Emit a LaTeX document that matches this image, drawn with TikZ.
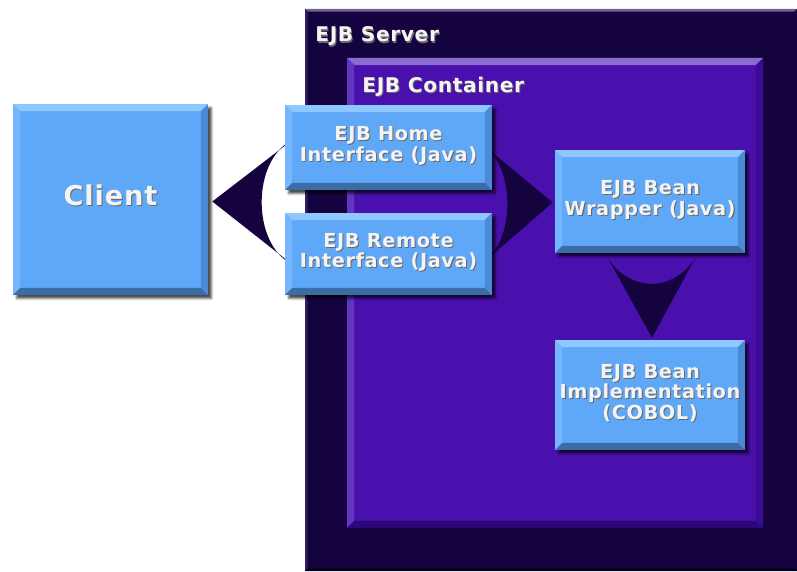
\documentclass[tikz,border=0pt]{standalone}
\usepackage{fontspec}
\newfontfamily\ejbfont[LetterSpace=3]{DejaVu Sans}
\usetikzlibrary{calc,shadows.blur}

\definecolor{serverbg}{HTML}{15033F}
\definecolor{servertop}{HTML}{6E6690}
\definecolor{serverleft}{HTML}{2E2160}
\definecolor{serverbottom}{HTML}{07001C}
\definecolor{contface}{HTML}{4A10AE}
\definecolor{conttop}{HTML}{8C6CCB}
\definecolor{contleft}{HTML}{6235C0}
\definecolor{contright}{HTML}{3A0C96}
\definecolor{contbottom}{HTML}{2B0878}
\definecolor{boxface}{HTML}{5FA8F8}
\definecolor{boxtop}{HTML}{8FC8FF}
\definecolor{boxleft}{HTML}{74B6FF}
\definecolor{boxright}{HTML}{4A8AD6}
\definecolor{boxbottom}{HTML}{3C6CA6}
\definecolor{labelwhite}{HTML}{F4F4F4}
\definecolor{textshade}{HTML}{6A6A6A}

\pgfdeclarelayer{backdrop}
\pgfdeclarelayer{links}
\pgfsetlayers{backdrop,links,main}

% bevelled frame: (top left)(bottom right)[width]{top}{left}{right}{bottom}
\def\bevel(#1)(#2)[#3]#4#5#6#7{%
  \path (#1) coordinate (bvA) (#2) coordinate (bvB);
  \coordinate (bvC) at (bvA -| bvB);
  \coordinate (bvD) at (bvA |- bvB);
  \fill[#4] (bvA) -- (bvC) -- ($(bvC)+(-#3,-#3)$) -- ($(bvA)+(#3,-#3)$) -- cycle;
  \fill[#5] (bvA) -- (bvD) -- ($(bvD)+(#3,#3)$) -- ($(bvA)+(#3,-#3)$) -- cycle;
  \fill[#6] (bvC) -- (bvB) -- ($(bvB)+(-#3,#3)$) -- ($(bvC)+(-#3,-#3)$) -- cycle;
  \fill[#7] (bvD) -- (bvB) -- ($(bvB)+(-#3,#3)$) -- ($(bvD)+(#3,#3)$) -- cycle;
}

% white text with a grey drop
\newcommand\embossed[1]{%
  \rlap{\kern0.6pt\raisebox{-0.6pt}{\textcolor{textshade}{\begin{tabular}[b]{@{}c@{}}#1\end{tabular}}}}%
  \begin{tabular}[b]{@{}c@{}}#1\end{tabular}}

\tikzset{
  ejbbox/.style={rectangle, inner sep=0pt, fill=boxface, text=labelwhite,
    font=\ejbfont\bfseries\fontsize{11}{11}\selectfont,
    blur shadow={shadow xshift=2pt, shadow yshift=-2pt, shadow blur radius=1.2pt, shadow opacity=70},
    path picture={\bevel(path picture bounding box.north west)(path picture bounding box.south east)[4pt]{boxtop}{boxleft}{boxright}{boxbottom}}},
  title/.style={anchor=base west, inner sep=0pt, text=labelwhite,
    font=\ejbfont\bfseries\fontsize{11.5}{11.5}\selectfont},
  crescent/.style={fill=serverbg}
}

\begin{document}
\begin{tikzpicture}[x=0.02cm, y=-0.02cm]
  \useasboundingbox (0,0) rectangle (797,571);

  %%%%% boxes %%%%%
  \node[ejbbox, minimum width=3.9cm, minimum height=3.82cm,
    font=\ejbfont\bfseries\fontsize{15.5}{15.5}\selectfont] (client) at (110.5,199.5) {\embossed{Client}};
  \node[ejbbox, minimum width=4.14cm, minimum height=1.7cm] (home) at (388.5,147.5)
    {\embossed{EJB Home\\Interface (Java)}};
  \node[ejbbox, minimum width=4.14cm, minimum height=1.64cm] (remote) at (388.5,254)
    {\embossed{EJB Remote\\Interface (Java)}};
  \node[ejbbox, minimum width=3.8cm, minimum height=2.06cm] (wrapper) at (650,201.5)
    {\embossed{EJB Bean\\Wrapper (Java)}};
  \node[ejbbox, minimum width=3.8cm, minimum height=2.2cm] (impl) at (650,395)
    {\embossed{EJB Bean\\Implementation\\(COBOL)}};

  \node[title] (servertitle) at (315,42) {\embossed{EJB Server}};
  \node[title] (containertitle) at (362,92) {\embossed{EJB Container}};

  %%%%% server and container (behind everything) %%%%%
  \begin{pgfonlayer}{backdrop}
    \fill[serverbg] (305,9) rectangle (797,571);
    \bevel(305,9)(797,571)[1.5pt]{servertop}{serverleft}{serverbg}{serverbottom}
    \fill[contface] (347,58) rectangle (763,528);
    \bevel(347,58)(763,528)[4pt]{conttop}{contleft}{contright}{contbottom}
  \end{pgfonlayer}

  %%%%% arrows %%%%%
  \begin{pgfonlayer}{links}
    \fill[crescent] ($(client.east)+(4,2)$) -- ($(home.west)+(7,-7)$)
      .. controls ($(home.west)+(-33,13)$) and ($(remote.west)+(-33,-10)$) .. ($(remote.west)+(7,10)$) -- cycle;
    \fill[crescent] ($(wrapper.west)+(-2,1)$) -- ($(home.east)+(-6,0)$)
      .. controls ($(home.east)+(22,24)$) and ($(remote.east)+(22,-18)$) .. ($(remote.east)+(-6,6)$) -- cycle;
    \fill[crescent] ($(impl.north)+(2,-2)$) -- ($(wrapper.south)+(-42,5)$)
      .. controls ($(wrapper.south)+(-20,39)$) and ($(wrapper.south)+(23,39)$) .. ($(wrapper.south)+(45,5)$) -- cycle;
  \end{pgfonlayer}
\end{tikzpicture}
\end{document}
